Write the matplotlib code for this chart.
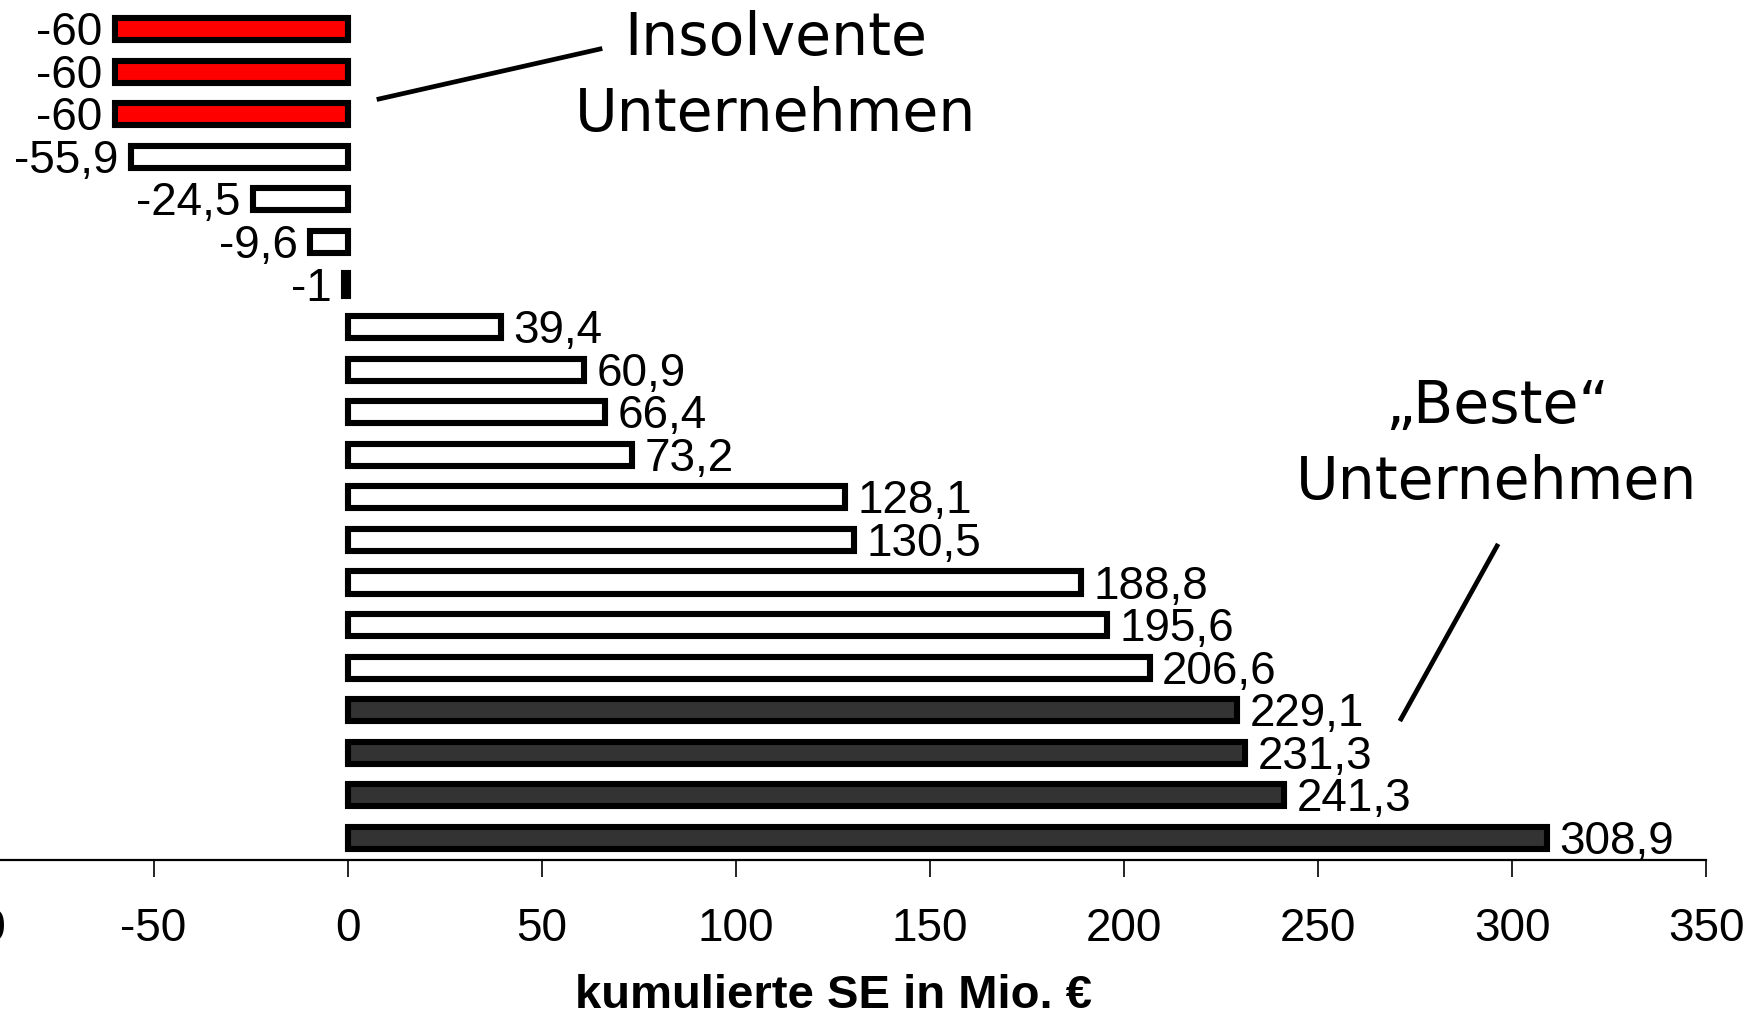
import matplotlib
matplotlib.use("Agg")
import matplotlib.pyplot as plt
from matplotlib import font_manager

# Werte von oben nach unten
werte = [-60, -60, -60, -55.9, -24.5, -9.6, -1, 39.4, 60.9, 66.4, 73.2,
         128.1, 130.5, 188.8, 195.6, 206.6, 229.1, 231.3, 241.3, 308.9]
beschriftung = ["-60", "-60", "-60", "-55,9", "-24,5", "-9,6", "-1", "39,4",
                "60,9", "66,4", "73,2", "128,1", "130,5", "188,8", "195,6",
                "206,6", "229,1", "231,3", "241,3", "308,9"]
farben = ["#ff0000"] * 3 + ["#ffffff"] * 13 + ["#333333"] * 4
xticks = [-100, -50, 0, 50, 100, 150, 200, 250, 300, 350]
xlabel = "kumulierte SE in Mio. €"

namen = {f.name for f in font_manager.fontManager.ttflist}
if "Liberation Sans Narrow" in namen:
    schrift = "Liberation Sans Narrow"
    gr = 38
else:
    schrift = "Liberation Sans"
    gr = 33

fig = plt.figure(figsize=(17.59, 10.18), dpi=100)
ax = fig.add_axes([-0.023, 0.1552, 0.993, 0.8414])

n = len(werte)
ypos = [n - 1 - i for i in range(n)]
ax.barh(ypos, werte, height=0.52, color=farben, edgecolor="black",
        linewidth=4.4, zorder=3)

for y, w, t in zip(ypos, werte, beschriftung):
    if w < 0:
        ax.annotate(t, (w, y), xytext=(-9, -3), textcoords="offset points",
                    ha="right", va="center", fontsize=gr, family=schrift)
    else:
        ax.annotate(t, (w, y), xytext=(9, -3), textcoords="offset points",
                    ha="left", va="center", fontsize=gr, family=schrift)

ax.set_xlim(-100, 350)
ax.set_ylim(-0.52, n - 0.4)
ax.set_xticks(xticks)
ax.set_xticklabels([str(v) for v in xticks], family=schrift, fontsize=gr)
ax.tick_params(axis="x", length=12, width=1.2, pad=22, direction="out")
ax.set_yticks([])
for s in ["left", "right", "top"]:
    ax.spines[s].set_visible(False)
ax.spines["bottom"].set_linewidth(1.6)

fig.text(0.474, 0.022, xlabel, ha="center", va="center", fontsize=gr + 1,
         fontweight="bold", family=schrift)

# Beschriftungen mit Linien
fig.text(776 / 1759, 1 - 39 / 1018, "Insolvente", ha="center", va="center",
         fontsize=42, family="DejaVu Sans")
fig.text(776 / 1759, 1 - 114 / 1018, "Unternehmen", ha="center", va="center",
         fontsize=42, family="DejaVu Sans")
fig.add_artist(plt.Line2D([379 / 1759, 600 / 1759], [1 - 99 / 1018, 1 - 49 / 1018],
                          color="black", linewidth=3.4))

fig.text(1497 / 1759, 1 - 406 / 1018, "„Beste“", ha="center", va="center",
         fontsize=42, family="DejaVu Sans")
fig.text(1497 / 1759, 1 - 482 / 1018, "Unternehmen", ha="center", va="center",
         fontsize=42, family="DejaVu Sans")
fig.add_artist(plt.Line2D([1497 / 1759, 1401 / 1759], [1 - 546 / 1018, 1 - 719 / 1018],
                          color="black", linewidth=3.4))

fig.savefig("out.png", dpi=100)
